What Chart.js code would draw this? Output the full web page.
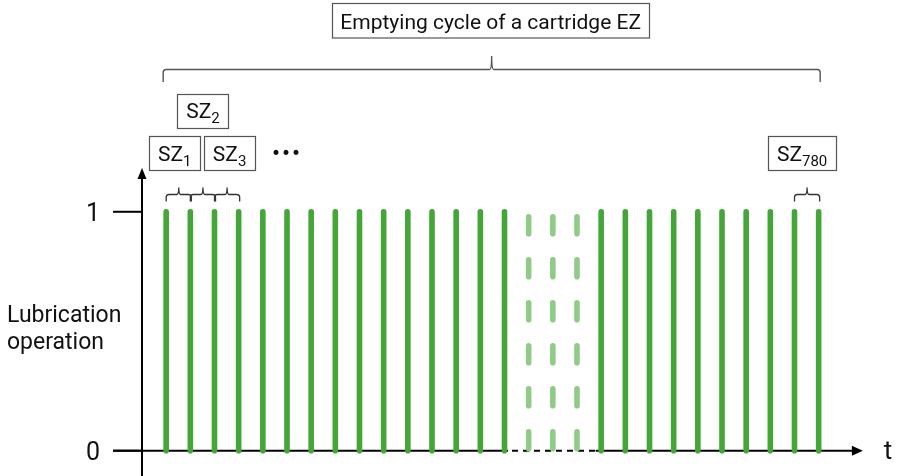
<!DOCTYPE html>
<html><head><meta charset="utf-8">
<script src="https://cdn.jsdelivr.net/npm/chart.js@4"></script>
<style>html,body{margin:0;padding:0;background:#fff}#wrap{width:897px;height:476px;position:relative}</style>
</head><body><div id="wrap"><canvas id="c"></canvas></div>
<script>
// ---- data ----
const cycleIndex = [1,2,3,4,5,6,7,8,9,10,11,12,13,14,15,16,17,18,19,20,21,22,23,24,25,26,27,28];
const lubricationOn = [1,1,1,1,1,1,1,1,1,1,1,1,1,1,1,1,1,1,1,1,1,1,1,1,1,1,1,1];
const lubricationOff = 0;
const elidedCycles = [16,17,18];
const yTickValues = [0,1];
const yTickLabels = ['0','1'];
const yAxisTitle = ['Lubrication','operation'];
const xAxisTitle = 't';
const cycleTitle = 'Emptying cycle of a cartridge EZ';
const subCycleNames = ['SZ','SZ','SZ','SZ'];
const subCycleSubs = ['1','2','3','780'];
const subCycleFrom = [1,2,3,27];
const subCycleTo = [2,3,4,28];

// ---- layout (annotation placement) ----
const boxLayout = [
  {dx:-4, cy:153},
  {dx:0, cy:110.5},
  {dx:2.5, cy:153},
  {dx:-5, cy:153.3}
];
const SOLID = '#43a637', LIGHT = '#90cc88';
const FONT = 'Roboto, "Liberation Sans", sans-serif';

const datasets = cycleIndex.map((c,i)=>{
  const elided = elidedCycles.includes(c);
  return {
    data:[{x:c,y:lubricationOn[i]},{x:c,y:lubricationOff}],
    borderColor: elided ? LIGHT : SOLID,
    borderWidth: 5.6,
    borderCapStyle: 'round',
    borderDash: elided ? [17,26] : [],
    borderDashOffset: elided ? 38 : 0,
    pointRadius: 0, pointHoverRadius:0, fill:false, tension:0
  };
});

function brace(ctx, x1, x2, y, depth, cusp){
  const xm = (x1+x2)/2, r = Math.min(3, depth/2);
  ctx.beginPath();
  ctx.moveTo(x1, y+depth);
  ctx.lineTo(x1, y+r);
  ctx.quadraticCurveTo(x1, y, x1+r, y);
  ctx.lineTo(xm-2, y);
  ctx.quadraticCurveTo(xm, y, xm, y-cusp);
  ctx.quadraticCurveTo(xm, y, xm+2, y);
  ctx.lineTo(x2-r, y);
  ctx.quadraticCurveTo(x2, y, x2, y+r);
  ctx.lineTo(x2, y+depth);
  ctx.stroke();
}

function subText(ctx, base, sub, cx, cy){
  ctx.font = '21px '+FONT;
  const wb = ctx.measureText(base).width;
  ctx.font = '15px '+FONT;
  const ws = ctx.measureText(sub).width;
  const w = wb+ws+18, h = 34;
  const left = cx - w/2;
  ctx.strokeStyle = '#555'; ctx.lineWidth = 1.2;
  ctx.strokeRect(Math.round(left)+0.5, Math.round(cy-h/2)+0.5, Math.round(w), h);
  ctx.fillStyle = '#111';
  ctx.textAlign = 'left'; ctx.textBaseline = 'alphabetic';
  const tx = cx - (wb+ws)/2;
  const base_y = cy + 7.5;
  ctx.font = '21px '+FONT;
  ctx.fillText(base, tx, base_y);
  ctx.font = '15px '+FONT;
  ctx.fillText(sub, tx+wb, base_y+5);
}

const decor = {
  id:'decor',
  beforeDatasetsDraw(chart){
    const ctx = chart.ctx, xs = chart.scales.x, ys = chart.scales.y;
    const x0 = xs.getPixelForValue(0), y0 = ys.getPixelForValue(0);
    ctx.save();
    ctx.strokeStyle = '#000'; ctx.fillStyle = '#000'; ctx.lineWidth = 2;
    // y axis
    const yTip = ys.getPixelForValue(1.183);
    ctx.beginPath(); ctx.moveTo(x0, 476); ctx.lineTo(x0, yTip+9); ctx.stroke();
    ctx.beginPath(); ctx.moveTo(x0, yTip); ctx.lineTo(x0-4.5, yTip+11); ctx.lineTo(x0+4.5, yTip+11); ctx.closePath(); ctx.fill();
    // ticks at y values
    yTickValues.forEach(v=>{
      const py = ys.getPixelForValue(v);
      ctx.beginPath(); ctx.moveTo(x0-29, py); ctx.lineTo(x0, py); ctx.stroke();
    });
    // x axis with elided dashed part
    const xTip = xs.getPixelForValue(29.83);
    const dStart = xs.getPixelForValue(elidedCycles[0]-1) + 3.5;
    const dEnd = xs.getPixelForValue(elidedCycles[elidedCycles.length-1]+1) - 5.5;
    ctx.beginPath(); ctx.moveTo(x0-29, y0); ctx.lineTo(dStart, y0); ctx.stroke();
    ctx.beginPath(); ctx.moveTo(dEnd, y0); ctx.lineTo(xTip-9, y0); ctx.stroke();
    ctx.setLineDash([6,5]);
    ctx.beginPath(); ctx.moveTo(dStart+4, y0); ctx.lineTo(dEnd, y0); ctx.stroke();
    ctx.setLineDash([]);
    ctx.beginPath(); ctx.moveTo(xTip, y0); ctx.lineTo(xTip-11, y0-5); ctx.lineTo(xTip-11, y0+5); ctx.closePath(); ctx.fill();
    ctx.restore();
  },
  afterDraw(chart){
    const ctx = chart.ctx, xs = chart.scales.x, ys = chart.scales.y;
    ctx.save();
    ctx.fillStyle = '#111';
    // y tick labels
    ctx.font = '25px '+FONT; ctx.textAlign = 'center'; ctx.textBaseline = 'alphabetic';
    yTickValues.forEach((v,i)=>{
      ctx.fillText(yTickLabels[i], 93, ys.getPixelForValue(v)+9);
    });
    // x axis title
    ctx.font = '26px '+FONT;
    ctx.fillText(xAxisTitle, 888, ys.getPixelForValue(0)+8.5);
    // y axis title
    ctx.font = '23px '+FONT; ctx.textAlign = 'left';
    ctx.fillText(yAxisTitle[0], 7, 321.5);
    ctx.fillText(yAxisTitle[1], 7, 348.5);
    // big brace
    ctx.strokeStyle = '#555'; ctx.lineWidth = 1.4;
    const bx1 = xs.getPixelForValue(cycleIndex[0]) - 3;
    const bx2 = xs.getPixelForValue(cycleIndex[cycleIndex.length-1]) + 1.5;
    brace(ctx, bx1, bx2, 69.5, 12.5, 13.5);
    // title box
    ctx.font = '21px '+FONT; ctx.textAlign = 'center';
    const tw = ctx.measureText(cycleTitle).width;
    const tcx = (bx1+bx2)/2 - 1;
    ctx.lineWidth = 1.2;
    ctx.strokeRect(Math.round(tcx - tw/2 - 8)+0.5, 3.5, Math.round(tw+16), 34.5);
    ctx.fillStyle = '#111';
    ctx.fillText(cycleTitle, tcx, 28.5);
    // sub-cycle braces and boxes
    ctx.strokeStyle = '#333'; ctx.lineWidth = 1.3;
    subCycleNames.forEach((n,i)=>{
      const a = xs.getPixelForValue(subCycleFrom[i]), b = xs.getPixelForValue(subCycleTo[i]);
      brace(ctx, a, b+1, 194.5, 7, 7);
    });
    subCycleNames.forEach((n,i)=>{
      const a = xs.getPixelForValue(subCycleFrom[i]), b = xs.getPixelForValue(subCycleTo[i]);
      subText(ctx, n, subCycleSubs[i], (a+b)/2 + 0.5 + boxLayout[i].dx, boxLayout[i].cy);
    });
    // ellipsis
    ctx.fillStyle = '#111';
    ctx.font = '17px "DejaVu Sans"'; ctx.textAlign = 'center'; ctx.textBaseline = 'middle';
    ctx.fillText('\u2022\u2022\u2022', 286, 155);
    ctx.restore();
  }
};

new Chart(document.getElementById('c'), {
  type:'line',
  data:{datasets},
  options:{
    responsive:true, maintainAspectRatio:false, animation:false,
    events:[],
    layout:{padding:{left:142, right:30, top:164, bottom:0}},
    plugins:{legend:{display:false}, tooltip:{enabled:false}, title:{display:false}},
    scales:{
      x:{type:'linear', min:0, max:30, display:false},
      y:{type:'linear', min:-0.106, max:1.2, display:false}
    }
  },
  plugins:[decor]
});
</script>
</body></html>
